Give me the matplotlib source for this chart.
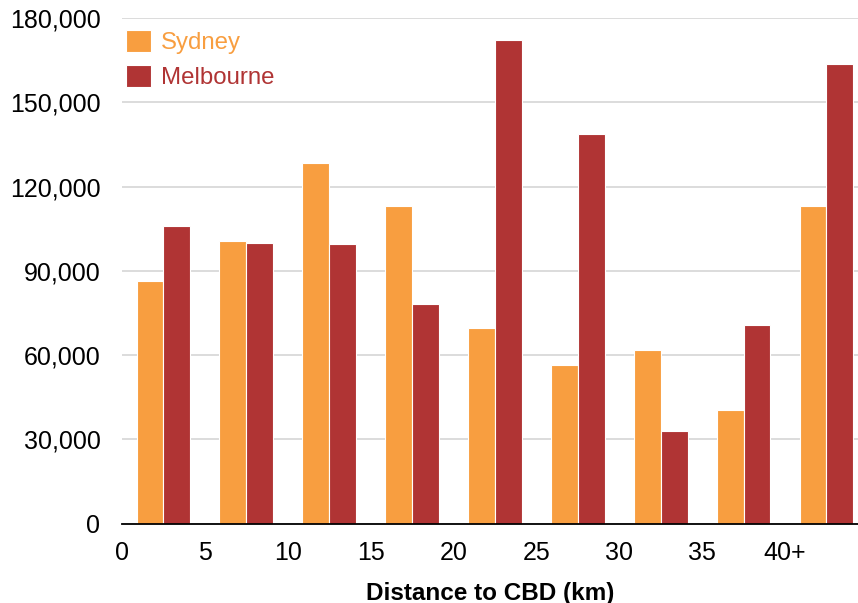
#!/usr/bin/env python3
"""grouped bar chart: Sydney vs Melbourne by distance to CBD"""

import numpy as np
import matplotlib
matplotlib.use("Agg")
import matplotlib.pyplot as plt
from matplotlib.ticker import FuncFormatter

# bins of 5 km, last one is 40+
bin_starts = [0, 5, 10, 15, 20, 25, 30, 35, 40]
tick_labels = ['0', '5', '10', '15', '20', '25', '30', '35', '40+']
sydney = [86400, 100600, 128500, 113100, 69600, 56400, 61800, 40300, 113000]
melbourne = [105800, 99900, 99400, 78200, 172100, 138600, 32800, 70700, 163500]

SYD_COL = '#F89E40'
MEL_COL = '#B03434'

plt.rcParams['font.family'] = ['Liberation Sans', 'DejaVu Sans']

fig = plt.figure(figsize=(8.58, 6.03), dpi=100)
ax = fig.add_axes([122 / 858, 1 - 523.5 / 603, 736 / 858, (523.5 - 18) / 603])

x = np.array(bin_starts) + 2.5
w = 1.62
ax.bar(x - w / 2, sydney, width=w, color=SYD_COL, edgecolor='white',
       linewidth=0.8, label='Sydney', zorder=3)
ax.bar(x + w / 2, melbourne, width=w, color=MEL_COL, edgecolor='white',
       linewidth=0.8, label='Melbourne', zorder=3)

ax.set_xlim(0, 736 / 16.575)
ax.set_ylim(0, 180000)
ax.set_yticks(np.arange(0, 180001, 30000))
ax.yaxis.set_major_formatter(FuncFormatter(lambda v, p: f'{int(v):,}'))
ax.set_xticks(bin_starts)
ax.set_xticklabels(tick_labels)

ax.grid(axis='y', color='#d9d9d9', linewidth=1.3, zorder=0)
for s in ['top', 'right', 'left']:
    ax.spines[s].set_visible(False)
ax.spines['bottom'].set_linewidth(1.3)
ax.spines['bottom'].set_zorder(4)
ax.tick_params(axis='both', length=0, labelsize=18, colors='black')
ax.tick_params(axis='y', pad=15.5)
ax.tick_params(axis='x', pad=12.5)

ax.set_xlabel('Distance to CBD (km)', fontsize=17.5, fontweight='bold',
              labelpad=12)

leg = ax.legend(loc='upper left', bbox_to_anchor=(126 / 858, 1 - 30 / 603),
                bbox_transform=fig.transFigure, frameon=False,
                fontsize=17.3, handlelength=1.05, handleheight=1.05,
                handletextpad=0.4, labelspacing=0.45, borderaxespad=0,
                borderpad=0)
for txt, col in zip(leg.get_texts(), [SYD_COL, MEL_COL]):
    txt.set_color(col)

fig.savefig('out.png', dpi=100)
